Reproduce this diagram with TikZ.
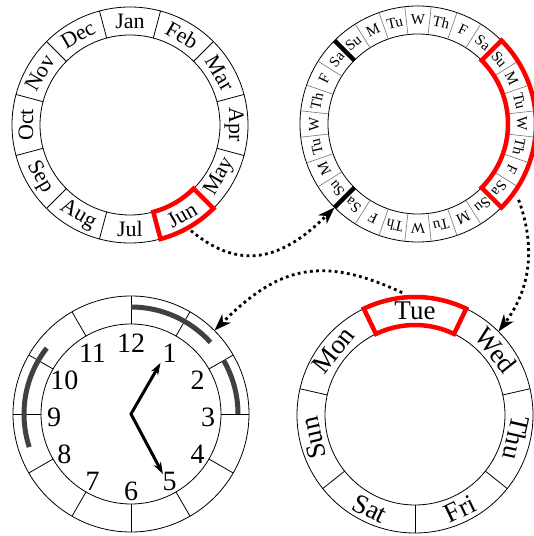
\documentclass[tikz,border=0pt]{standalone}
\usepackage{fontspec}
\setmainfont{Liberation Serif}
\usetikzlibrary{arrows.meta}
\begin{document}
\begin{tikzpicture}[x=1pt,y=1pt,
  ringline/.style={line width=0.8pt},
  segline/.style={line width=0.8pt},
  dayseg/.style={line width=0.6pt, draw=black!55},
  weekmark/.style={line width=4.5pt},
  redbox/.style={draw=red, line width=4.5pt},
  interval/.style={draw=black!75, line width=5pt},
  hand/.style={line width=3pt, {Stealth[length=12pt,width=8pt]}-{Stealth[length=12pt,width=8pt]}},
  link/.style={line width=2.8pt, dash pattern=on 2.8pt off 3.4pt, -{Stealth[length=17pt,width=12pt,inset=5pt]}},
  montxt/.style={inner sep=0pt, font=\fontsize{22}{24}\selectfont},
  daytxt/.style={inner sep=0pt, font=\fontsize{15}{16}\selectfont},
  hourtxt/.style={inner sep=0pt, font=\fontsize{28}{30}\selectfont},
  wdtxt/.style={inner sep=0pt, font=\fontsize{27}{28}\selectfont}
]
\useasboundingbox (0,0) rectangle (534,536);

% ---------- months ring ----------
\coordinate (A) at (130,411);
\draw[ringline] (A) circle[radius=118pt] (A) circle[radius=90pt];
\foreach \k in {0,...,11}{
  \pgfmathsetmacro\bb{105-30*\k}
  \draw[segline] ([shift={(\bb:90pt)}]A) -- ([shift={(\bb:118pt)}]A);
}
\foreach \m [count=\i from 0] in {Jan,Feb,Mar,Apr,May,Jun,Jul,Aug,Sep,Oct,Nov,Dec}{
  \pgfmathsetmacro\ang{90-30*\i}
  \pgfmathsetmacro\rot{\ang-90+180*((\i>3)*(\i<9))}
  \node[montxt, rotate=\rot] (mon\i) at ([shift={(\ang:104pt)}]A) {\m};
}
\draw[redbox] ([shift={(-45:90pt)}]A) arc[start angle=-45,end angle=-75,radius=90pt]
  -- ([shift={(-75:118pt)}]A) arc[start angle=-75,end angle=-45,radius=118pt] -- cycle;

% ---------- days ring ----------
\coordinate (B) at (418,412);
\draw[ringline] (B) circle[radius=118pt] (B) circle[radius=90pt];
\foreach \k in {0,...,27}{
  \pgfmathsetmacro\bb{90+180/28-360/28*\k}
  \draw[dayseg] ([shift={(\bb:90pt)}]B) -- ([shift={(\bb:118pt)}]B);
}
\draw[weekmark] ([shift={(135:90pt)}]B) -- ([shift={(135:118pt)}]B);
\draw[weekmark] ([shift={(225:90pt)}]B) -- ([shift={(225:118pt)}]B);
\foreach \d [count=\i from 0] in {W,Th,F,Sa,Su,M,Tu,W,Th,F,Sa,Su,M,Tu,W,Th,F,Sa,Su,M,Tu,W,Th,F,Sa,Su,M,Tu}{
  \pgfmathsetmacro\ang{90-360/28*\i}
  \pgfmathsetmacro\rot{\ang-90}
  \node[daytxt, rotate=\rot] (day\i) at ([shift={(\ang:104pt)}]B) {\d};
}
\draw[redbox] ([shift={(45:90pt)}]B) arc[start angle=45,end angle=-45,radius=90pt]
  -- ([shift={(-45:118pt)}]B) arc[start angle=-45,end angle=45,radius=118pt] -- cycle;

% ---------- clock ----------
\coordinate (C) at (131,122);
\draw[ringline] (C) circle[radius=118pt] (C) circle[radius=90pt];
\foreach \k in {0,...,11}{
  \pgfmathsetmacro\bb{30*\k}
  \draw[segline] ([shift={(\bb:90pt)}]C) -- ([shift={(\bb:118pt)}]C);
}
\draw[interval] ([shift={(90:107pt)}]C) arc[start angle=90,end angle=42,radius=107pt];
\draw[interval] ([shift={(30:107pt)}]C) arc[start angle=30,end angle=0,radius=107pt];
\draw[interval] ([shift={(142:107pt)}]C) arc[start angle=142,end angle=198,radius=107pt];
\foreach \n in {1,...,12}{
  \pgfmathsetmacro\ang{90-30*\n}
  \pgfmathsetmacro\hx{77*cos(\ang)}
  \pgfmathsetmacro\hy{74*sin(\ang)-3}
  \node[hourtxt] (hr\n) at ([shift={(\hx pt,\hy pt)}]C) {\n};
}
\coordinate (hourtip) at ([shift={(60:59pt)}]C);
\coordinate (mintip) at ([shift={(-62:68pt)}]C);
\draw[hand] (hourtip) -- (C) -- (mintip);

% ---------- weekday ring ----------
\coordinate (D) at (415,121);
\draw[ringline] (D) circle[radius=118pt] (D) circle[radius=90pt];
\foreach \k in {0,...,6}{
  \pgfmathsetmacro\bb{90+180/7-360/7*\k}
  \draw[segline] ([shift={(\bb:90pt)}]D) -- ([shift={(\bb:118pt)}]D);
}
\foreach \w [count=\i from 0] in {Tue,Wed,Thu,Fri,Sat,Sun,Mon}{
  \pgfmathsetmacro\ang{90-360/7*\i}
  \pgfmathsetmacro\rot{\ang-90+180*((\i>2)*(\i<5))}
  \node[wdtxt, rotate=\rot] (wd\i) at ([shift={(\ang:104pt)}]D) {\w};
}
\draw[redbox] ([shift={(90-180/7:90pt)}]D) arc[start angle=90-180/7,end angle=90+180/7,radius=90pt]
  -- ([shift={(90+180/7:118pt)}]D) arc[start angle=90+180/7,end angle=90-180/7,radius=118pt] -- cycle;

% ---------- links ----------
\coordinate (l1s) at ([shift={(-60:122pt)}]A);
\coordinate (l1e) at ([shift={(-135:118pt)}]B);
\draw[link] (l1s) to[out=-40,in=-135,looseness=1.2] (l1e);
\coordinate (l2s) at ([shift={(-37:126pt)}]B);
\coordinate (l2e) at ([shift={(45:118pt)}]D);
\draw[link] (l2s) to[out=-70,in=53] (l2e);
\coordinate (l3s) at ([shift={(96:123pt)}]D);
\coordinate (l3e) at ([shift={(45:118pt)}]C);
\draw[link] (l3s) to[out=155,in=45,looseness=1.2] (l3e);
\end{tikzpicture}
\end{document}
